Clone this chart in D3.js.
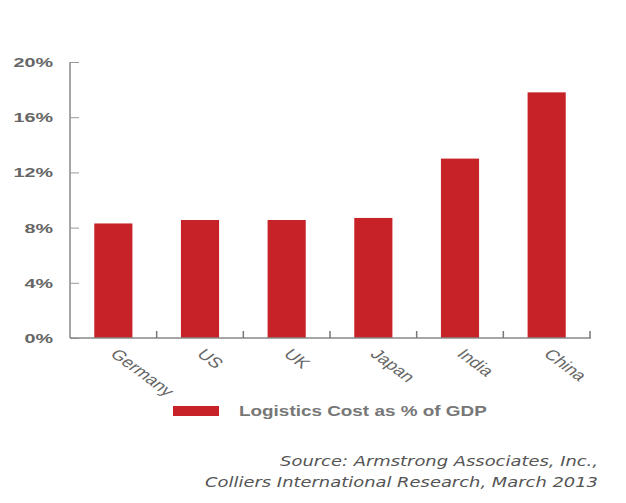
<!DOCTYPE html>
<html>
<head>
<meta charset="utf-8">
<script src="https://cdnjs.cloudflare.com/ajax/libs/d3/7.8.5/d3.min.js"></script>
<style>
body { margin: 0; background: #fff; }
text { font-family: "Liberation Sans", Arial, sans-serif; }
</style>
</head>
<body>
<script>
var w = 626;
var h = 503;
// the source picture is stretched sideways, so text gets the same stretch
var stretch = 1.35;

var countries = ["Germany", "US", "UK", "Japan", "India", "China"];
var costPct = [8.3, 8.55, 8.55, 8.7, 13, 17.8];
var yTicks = [0, 4, 8, 12, 16, 20];
var seriesName = "Logistics Cost as % of GDP";
var sourceLines = ["Source: Armstrong Associates, Inc.,", "Colliers International Research, March 2013"];

var dataset = countries.map(function (c, i) {
    return { name: c, value: costPct[i] };
});

var svg = d3.select("body")
    .append("svg")
    .attr("width", w)
    .attr("height", h);

var xScale = d3.scaleBand()
    .domain(countries)
    .range([70, 590])
    .paddingInner(0.56)
    .paddingOuter(0.28);

var yScale = d3.scaleLinear()
    .domain([0, 20])
    .range([338, 62]);

// bars
svg.selectAll("rect.bar")
    .data(dataset)
    .enter()
    .append("rect")
    .attr("class", "bar")
    .attr("x", function (d) { return xScale(d.name); })
    .attr("y", function (d) { return yScale(d.value); })
    .attr("width", xScale.bandwidth())
    .attr("height", function (d) { return yScale(0) - yScale(d.value); })
    .attr("fill", "#c62228");

// y axis, ticks pointing inward
var yAxis = svg.append("g")
    .attr("transform", "translate(70,0)")
    .call(d3.axisRight(yScale)
        .tickValues(yTicks)
        .tickSize(9)
        .tickFormat(function (d) { return d + "%"; }));
yAxis.select(".domain").attr("stroke", "#888").attr("stroke-width", 1.5).attr("d", "M0,62V338");
yAxis.selectAll(".tick line").attr("stroke", "#999");
yAxis.selectAll(".tick text")
    .attr("x", 0)
    .attr("dy", "0.36em")
    .attr("transform", "translate(-17,0) scale(1.58,1)")
    .attr("text-anchor", "end")
    .attr("fill", "#666")
    .style("font-size", "12.5px")
    .style("font-weight", "bold");

// x axis with small ticks between bars
var step = xScale.step();
var boundaries = countries.map(function (c) {
    return xScale(c) + xScale.bandwidth() / 2 + step / 2;
});
svg.append("line")
    .attr("x1", 70).attr("x2", 591)
    .attr("y1", 338).attr("y2", 338)
    .attr("stroke", "#888")
    .attr("stroke-width", 1.5);
svg.selectAll("line.xtick")
    .data(boundaries)
    .enter()
    .append("line")
    .attr("class", "xtick")
    .attr("x1", function (d) { return d; })
    .attr("x2", function (d) { return d; })
    .attr("y1", 338).attr("y2", 331)
    .attr("stroke", "#777")
    .attr("stroke-width", 1.5);

// rotated category labels
svg.selectAll("text.xlab")
    .data(countries)
    .enter()
    .append("text")
    .attr("class", "xlab")
    .attr("transform", function (d) {
        var cx = xScale(d) + xScale.bandwidth() / 2 - 4;
        return "translate(" + cx + ",355) scale(" + stretch + ",1) rotate(45)";
    })
    .attr("fill", "#666")
    .style("font-size", "14.5px")
    .text(function (d) { return d; });

// legend
svg.append("rect")
    .attr("x", 173).attr("y", 406)
    .attr("width", 46).attr("height", 10)
    .attr("fill", "#c62228");
svg.append("text")
    .attr("transform", "translate(239,416) scale(" + stretch + ",1)")
    .attr("fill", "#777")
    .style("font-size", "14px")
    .style("font-weight", "bold")
    .text(seriesName);

// source note
svg.selectAll("text.src")
    .data(sourceLines)
    .enter()
    .append("text")
    .attr("class", "src")
    .attr("transform", function (d, i) {
        return "translate(598," + (466 + i * 21) + ") scale(1.28,1)";
    })
    .attr("text-anchor", "end")
    .attr("fill", "#555")
    .style("font-family", "'DejaVu Sans', sans-serif")
    .style("font-style", "italic")
    .style("font-size", "14px")
    .text(function (d) { return d; });
</script>
</body>
</html>
